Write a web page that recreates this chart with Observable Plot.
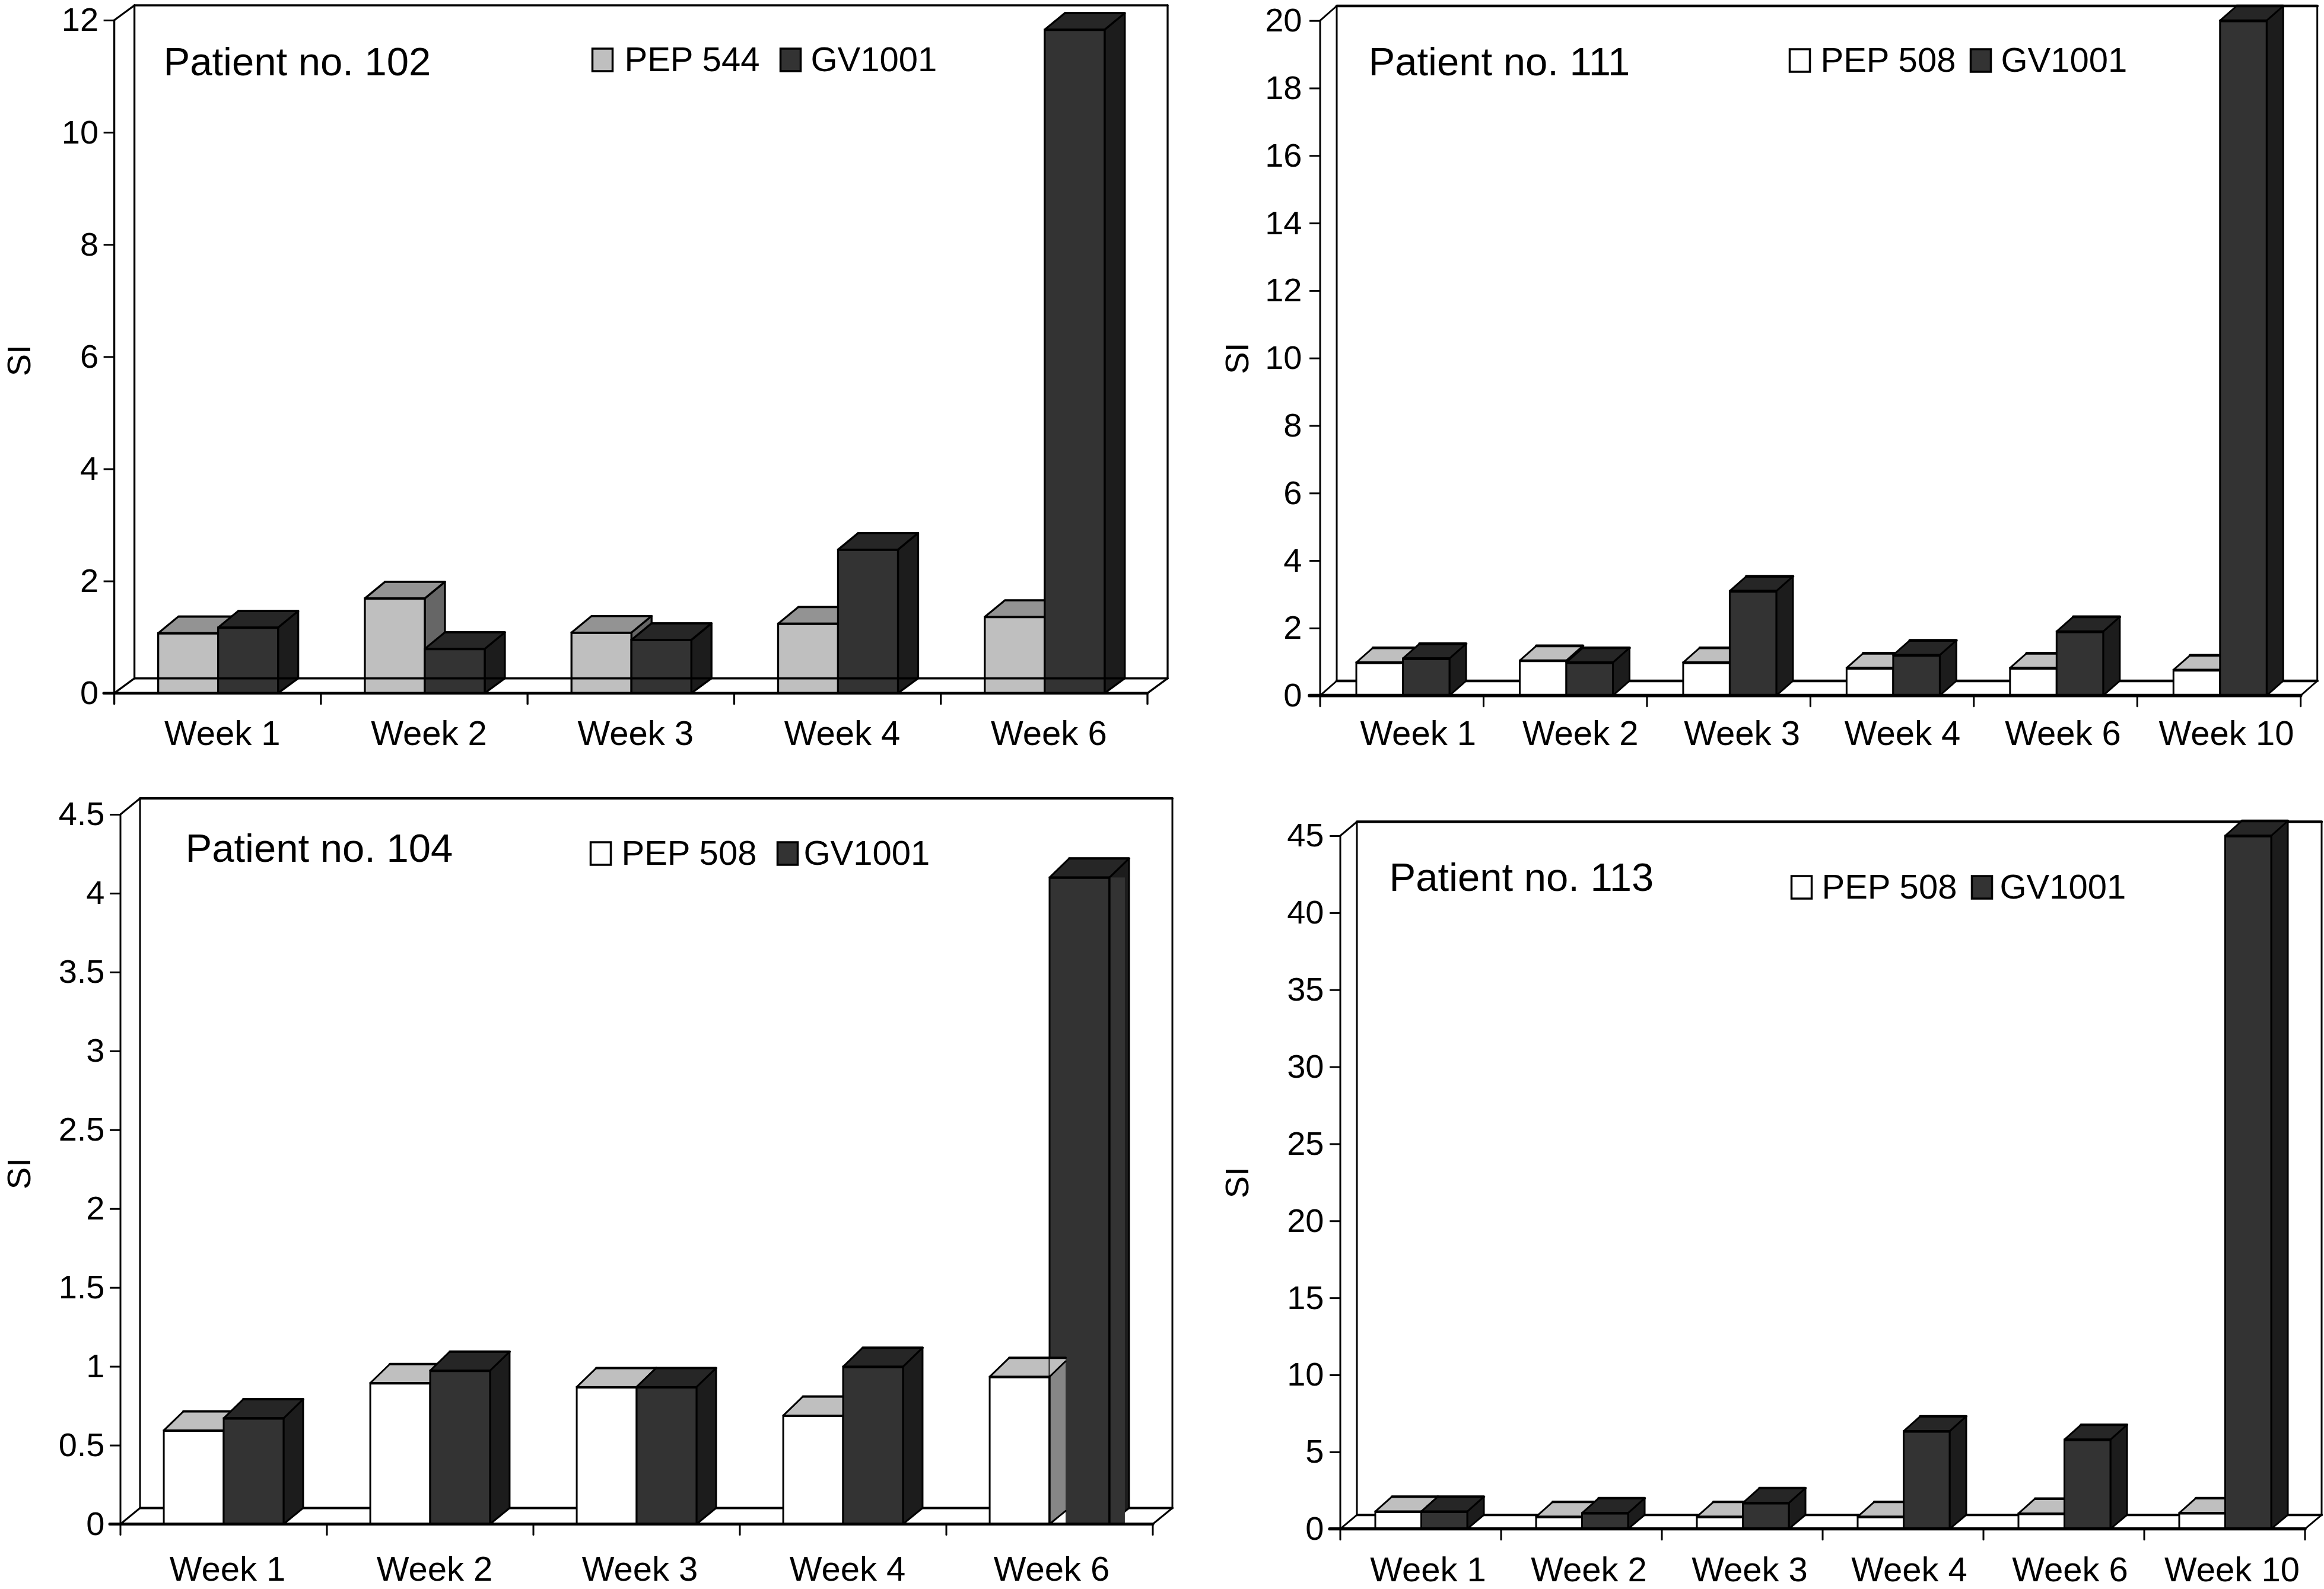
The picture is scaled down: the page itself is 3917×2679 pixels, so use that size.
<!DOCTYPE html>
<html>
<head>
<meta charset="utf-8">
<script src="https://cdn.jsdelivr.net/npm/d3@7"></script>
<script src="https://cdn.jsdelivr.net/npm/@observablehq/plot@0.6"></script>
<style>
  html, body { margin: 0; padding: 0; background: #fff; }
  #page { position: relative; width: 3917px; height: 2679px; background: #fff; overflow: hidden; }
</style>
</head>
<body>
<div id="page"></div>
<script>
// ---- data ----
const weeksFive = ["Week 1", "Week 2", "Week 3", "Week 4", "Week 6"];
const weeksSix = ["Week 1", "Week 2", "Week 3", "Week 4", "Week 6", "Week 10"];

const pep544Patient102 = [1.07, 1.69, 1.08, 1.24, 1.36];
const gv1001Patient102 = [1.17, 0.79, 0.95, 2.56, 11.83];

const pep508Patient111 = [0.98, 1.04, 0.98, 0.82, 0.82, 0.76];
const gv1001Patient111 = [1.10, 0.98, 3.10, 1.20, 1.90, 20.0];

const pep508Patient104 = [0.594, 0.894, 0.869, 0.688, 0.934];
const gv1001Patient104 = [0.671, 0.973, 0.869, 0.998, 4.10];

const pep508Patient113 = [1.13, 0.79, 0.79, 0.79, 1.0, 1.03];
const gv1001Patient113 = [1.13, 1.03, 1.69, 6.35, 5.8, 45.0];

const ticks102 = [0, 2, 4, 6, 8, 10, 12];
const ticks111 = [0, 2, 4, 6, 8, 10, 12, 14, 16, 18, 20];
const ticks104 = [0, 0.5, 1, 1.5, 2, 2.5, 3, 3.5, 4, 4.5];
const ticks113 = [0, 5, 10, 15, 20, 25, 30, 35, 40, 45];

// ---- styles ----
const FONT = "'Liberation Sans', Arial, Helvetica, sans-serif";
const grayStyle = {front: "#bfbfbf", top: "#939393", side: "#666666"};
const whiteStyle = {front: "#ffffff", top: "#bfbfbf", side: "#868686"};
const darkStyle = {front: "#333333", top: "#262626", side: "#1c1c1c"};

const panels = [
  {title: "Patient no. 102", lightName: "PEP 544", light: pep544Patient102, dark: gv1001Patient102, weeks: weeksFive, ticks: ticks102,
   lightStyle: grayStyle,
   box: {left: 0, top: 0, width: 1985, height: 1290}, x: [192.6, 1934], y: [34, 1168.7],
   depth: [34, 25], barRise: 28, pad: 0.2126, bw: 0.29, vw: 3.3, hw: 3.4, floorOnTop: true, labelGap: 46, tickGap: 9,
   labelShift: [7.5, 7.5, 7.5, 7.5, 7.5], siX: 33, siShift: 6,
   titleAt: [275, 105], legendY: 101, swatchLight: 997, textLight: 1052, swatchDark: 1314, textDark: 1366},
  {title: "Patient no. 111", lightName: "PEP 508", light: pep508Patient111, dark: gv1001Patient111, weeks: weeksSix, ticks: ticks111,
   lightStyle: whiteStyle,
   box: {left: 2000, top: 0, width: 1917, height: 1290}, x: [2225, 3877.7], y: [34.7, 1172.7],
   depth: [28, 24.7], barRise: 24.7, pad: 0.2215, bw: 0.285, vw: 3, hw: 4.7, floorOnTop: false, labelGap: 42, tickGap: 13,
   labelShift: [27, 25, 22, 17, 12, 12], siX: 2086, siShift: 0,
   titleAt: [2306, 105], legendY: 102, swatchLight: 3015, textLight: 3068, swatchDark: 3320, textDark: 3372},
  {title: "Patient no. 104", lightName: "PEP 508", light: pep508Patient104, dark: gv1001Patient104, weeks: weeksFive, ticks: ticks104,
   lightStyle: whiteStyle,
   box: {left: 0, top: 1300, width: 1985, height: 1379}, x: [203, 1943], y: [1373, 2569.5],
   depth: [33, 27], barRise: 32, pad: 0.21, bw: 0.29, vw: 3, hw: 4, floorOnTop: false, labelGap: 54, tickGap: 9,
   labelShift: [6, 7, 5, 7, 3], siX: 33, siShift: 7, overlapLast: true,
   titleAt: [312, 1431], legendY: 1439, swatchLight: 994, textLight: 1047, swatchDark: 1309, textDark: 1354},
  {title: "Patient no. 113", lightName: "PEP 508", light: pep508Patient113, dark: gv1001Patient113, weeks: weeksSix, ticks: ticks113,
   lightStyle: whiteStyle,
   box: {left: 2000, top: 1300, width: 1917, height: 1379}, x: [2259, 3885], y: [1409, 2577.7],
   depth: [28, 23.5], barRise: 25, pad: 0.2177, bw: 0.286, vw: 3, hw: 4.3, floorOnTop: false, labelGap: 47, tickGap: 10,
   labelShift: [12, 12, 12, 10, 10, 12], siX: 2086, siShift: 0,
   titleAt: [2341, 1480], legendY: 1496, swatchLight: 3018, textLight: 3070, swatchDark: 3322, textDark: 3370}
];

// ---- svg helpers ----
const NS = "http://www.w3.org/2000/svg";
function el(parent, name, attrs) {
  const node = document.createElementNS(NS, name);
  for (const k in attrs) node.setAttribute(k, attrs[k]);
  parent.appendChild(node);
  return node;
}
function poly(g, pts, fill, strokeWidth) {
  el(g, "polygon", {points: pts.map(p => p.join(",")).join(" "), fill, stroke: strokeWidth ? "#000" : "none",
    "stroke-width": strokeWidth || 0, "stroke-linejoin": "round"});
}
function line(g, a, b, w) {
  el(g, "line", {x1: a[0], y1: a[1], x2: b[0], y2: b[1], stroke: "#000", "stroke-width": w, "stroke-linecap": "round"});
}

function renderPanel(p) {
  const n = p.weeks.length;
  const max = p.ticks[p.ticks.length - 1];
  const [dX, dY] = p.depth;
  const rise = p.barRise;
  const mL = p.x[0] - p.box.left, mR = p.box.left + p.box.width - p.x[1];
  const mT = p.y[0] - p.box.top, mB = p.box.top + p.box.height - p.y[1];
  const step = (p.x[1] - p.x[0]) / n;

  const rows = (values, offset) => values.map((v, i) => ({
    x1: i + p.pad + offset * p.bw, x2: i + p.pad + (offset + 1) * p.bw, v
  }));
  const lightRows = rows(p.light, 0);
  const darkRows = rows(p.dark, 1);
  const labelTicks = d3.range(n).map(i => i + 0.5 + p.labelShift[i] / step);

  // back wall, floor and the bottom ticks of the category axis
  const wall = (index, {x, y}) => {
    const g = document.createElementNS(NS, "g");
    const l = x(0), r = x(n), b = y(0), t = y(max);
    line(g, [l + dX, t - dY], [r + dX, t - dY], p.hw);
    line(g, [l + dX, t - dY], [l + dX, b - dY], p.vw);
    line(g, [r + dX, t - dY], [r + dX, b - dY], p.vw);
    line(g, [l, t], [l, b], p.vw);
    line(g, [l, t], [l + dX, t - dY], p.vw);
    line(g, [l, b], [l + dX, b - dY], p.vw);
    line(g, [r, b], [r + dX, b - dY], p.vw);
    if (!p.floorOnTop) line(g, [l + dX, b - dY], [r + dX, b - dY], p.hw);
    return g;
  };
  const floorLine = (index, {x, y}) => {
    const g = document.createElementNS(NS, "g");
    const b = y(0);
    if (p.floorOnTop) line(g, [x(0) + dX, b - dY], [x(n) + dX, b - dY], p.hw);
    line(g, [x(0) - 18, b], [x(n), b], p.hw + 1);
    d3.range(n + 1).forEach(i => line(g, [x(i), b], [x(i), b + 18], p.vw));
    return g;
  };
  // top and side faces of the bars, from the same scales as the fronts
  const faces = (data, style) => (index, {x, y}) => {
    const g = document.createElementNS(NS, "g");
    for (const d of data) {
      const a = x(d.x1), c = x(d.x2), yt = y(d.v), b = y(0);
      poly(g, [[c, yt], [c + dX, yt - rise], [c + dX, b - dY], [c, b]], style.side, p.vw);
      poly(g, [[a, yt], [a + dX, yt - rise], [c + dX, yt - rise], [c, yt]], style.top, p.vw);
      line(g, [a + dX, yt - rise], [c + dX, yt - rise], p.hw);
    }
    return g;
  };
  // in the last group of panel 104 the reference paints the white bar's side over the dark bar
  const overlap = (index, {x, y}) => {
    const g = document.createElementNS(NS, "g");
    const li = lightRows[n - 1], di = darkRows[n - 1];
    const xs = x(di.x1), xe = x(di.x2), b = y(0), yl = y(li.v), yd = y(di.v);
    const w = 27, topRise = rise * w / dX, floorRise = dY * w / dX;
    el(g, "rect", {x: xe, y: yd, width: 26, height: b - yd, fill: darkStyle.front});
    line(g, [xe, yd], [xe, b], p.vw + 0.5);
    el(g, "rect", {x: xs, y: yl, width: w, height: b - yl, fill: "#fff"});
    poly(g, [[xs, yl], [xs + w, yl - topRise], [xs + w, b - floorRise], [xs, b]], whiteStyle.side, 0);
    poly(g, [[xs, yl], [xs + w, yl - topRise], [xs + w, yl - rise], [xs, yl - rise]], whiteStyle.top, 0);
    line(g, [xs, yl], [xs + w, yl - topRise], p.vw);
    line(g, [xs, yl - rise], [xs + w, yl - rise], p.hw);
    line(g, [xs, yl], [xs, b], p.vw + 0.5);
    line(g, [xs, b], [xs + w, b - floorRise], p.vw);
    return g;
  };
  const legendSwatches = () => {
    const g = document.createElementNS(NS, "g");
    const yTop = p.legendY - 19 - p.box.top;
    el(g, "rect", {x: p.swatchLight - p.box.left + 1.5, y: yTop, width: 34, height: 38, fill: p.lightStyle.front, stroke: "#000", "stroke-width": 3.5});
    el(g, "rect", {x: p.swatchDark - p.box.left + 1.5, y: yTop, width: 34, height: 38, fill: darkStyle.front, stroke: "#000", "stroke-width": 3.5});
    return g;
  };
  const note = (text, at, size) => Plot.text([text], {
    text: d => d, frameAnchor: "top-left", textAnchor: "start", lineAnchor: "middle",
    dx: at[0] - p.x[0], dy: at[1] - p.y[0], fontSize: size, fill: "#000"
  });

  const front = (data, style) => [
    faces(data, style),
    Plot.rect(data, {x1: "x1", x2: "x2", y1: () => 0, y2: "v", fill: style.front, stroke: "#000", strokeWidth: p.vw}),
    Plot.ruleY(data, {x1: "x1", x2: "x2", y: "v", stroke: "#000", strokeWidth: p.hw})
  ];

  const svg = Plot.plot({
    width: p.box.width,
    height: p.box.height,
    marginLeft: mL, marginRight: mR, marginTop: mT, marginBottom: mB,
    style: {position: "absolute", left: p.box.left + "px", top: p.box.top + "px", overflow: "visible",
      fontFamily: FONT, background: "transparent", color: "#000"},
    x: {type: "linear", domain: [0, n]},
    y: {type: "linear", domain: [0, max]},
    marks: [
      wall,
      ...front(lightRows, p.lightStyle),
      ...front(darkRows, darkStyle),
      ...(p.overlapLast ? [overlap] : []),
      floorLine,
      Plot.axisY({ticks: p.ticks, tickSize: 18, tickPadding: p.tickGap, strokeWidth: 3, fontSize: 56, label: null,
        tickFormat: d => String(d), fill: "#000", stroke: "#000"}),
      Plot.axisX({ticks: labelTicks, tickSize: 0, tickPadding: p.labelGap, fontSize: 58, label: null,
        tickFormat: (d, i) => p.weeks[i], fill: "#000", textOverflow: null}),
      Plot.text(["SI"], {text: d => d, frameAnchor: "left", textAnchor: "middle", rotate: -90,
        dx: p.siX - p.x[0], dy: p.siShift, fontSize: 56, fill: "#000"}),
      note(p.title, p.titleAt, 67),
      legendSwatches,
      note(p.lightName, [p.textLight, p.legendY], 58),
      note("GV1001", [p.textDark, p.legendY], 58)
    ]
  });
  document.getElementById("page").appendChild(svg);
}

panels.forEach(renderPanel);
</script>
</body>
</html>
